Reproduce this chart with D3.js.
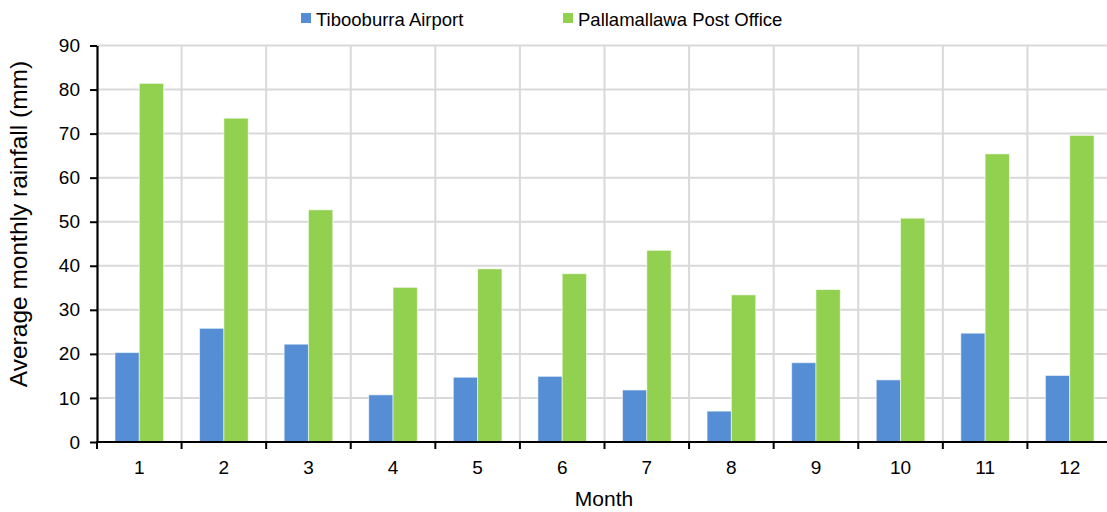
<!DOCTYPE html>
<html>
<head>
<meta charset="utf-8">
<script src="https://cdn.jsdelivr.net/npm/d3@7"></script>
<style>
  html, body { margin: 0; padding: 0; background: #fff; }
  svg { display: block; font-family: "Liberation Sans", Arial, sans-serif; }
</style>
</head>
<body>
<svg id="chart" width="1107" height="512"></svg>
<script>
// Average monthly rainfall (mm) for two NSW stations
const months = ["1", "2", "3", "4", "5", "6", "7", "8", "9", "10", "11", "12"];
const seriesNames = ["Tibooburra Airport", "Pallamallawa Post Office"];
const tibooburra = [20.3, 25.8, 22.2, 10.7, 14.7, 14.9, 11.8, 7.0, 18.0, 14.1, 24.7, 15.1];
const pallamallawa = [81.4, 73.5, 52.7, 35.1, 39.3, 38.2, 43.5, 33.4, 34.6, 50.8, 65.4, 69.6];
const yTicks = [0, 10, 20, 30, 40, 50, 60, 70, 80, 90];
const colors = ["#558ed5", "#92d050"];

const svg = d3.select("#chart");
const plotLeft = 97, plotRight = 1112, plotTop = 45.5, plotBottom = 442;

const x = d3.scaleBand().domain(months).range([plotLeft, plotRight]).padding(0);
const xs = d3.scaleBand().domain(seriesNames).range([0, x.bandwidth()])
  .paddingInner(0).paddingOuter(0.74);
const y = d3.scaleLinear().domain([0, 90]).range([plotBottom, plotTop]);

// gridlines
const grid = svg.append("g").attr("stroke", "#d9d9d9").attr("stroke-width", 2);
grid.selectAll("line.h").data(yTicks.filter(d => d > 0)).join("line")
  .attr("class", "h")
  .attr("x1", plotLeft).attr("x2", plotRight)
  .attr("y1", d => y(d)).attr("y2", d => y(d));
grid.selectAll("line.v").data(months).join("line")
  .attr("class", "v")
  .attr("x1", d => x(d) + x.bandwidth()).attr("x2", d => x(d) + x.bandwidth())
  .attr("y1", plotTop).attr("y2", plotBottom);

// bars
const rows = months.map((m, i) => ({ month: m, values: [tibooburra[i], pallamallawa[i]] }));
const groups = svg.append("g").selectAll("g").data(rows).join("g")
  .attr("transform", d => `translate(${x(d.month)},0)`);
groups.selectAll("rect").data(d => d.values.map((v, j) => ({ v, j }))).join("rect")
  .attr("x", d => xs(seriesNames[d.j]))
  .attr("width", xs.bandwidth())
  .attr("y", d => y(d.v))
  .attr("height", d => y(0) - y(d.v))
  .attr("fill", d => colors[d.j])
  .attr("stroke", "rgba(255,255,255,0.55)")
  .attr("stroke-width", 1);

// y axis
const yAxis = svg.append("g").attr("transform", `translate(${plotLeft},0)`)
  .call(d3.axisLeft(y).tickValues(yTicks).tickSize(7).tickSizeOuter(0).tickPadding(10));
yAxis.select(".domain").attr("stroke", "#000").attr("stroke-width", 2.2);
yAxis.selectAll(".tick line").attr("stroke", "#000").attr("stroke-width", 2);
yAxis.selectAll(".tick text").attr("font-size", 19).attr("fill", "#000")
  .attr("font-family", "Liberation Sans, Arial, sans-serif");

// x axis: ticks at category boundaries, labels at centres
const xAxisG = svg.append("g");
xAxisG.append("line").attr("x1", plotLeft - 1).attr("x2", plotRight)
  .attr("y1", plotBottom).attr("y2", plotBottom).attr("stroke", "#000").attr("stroke-width", 2.2);
const bounds = [plotLeft].concat(months.map(m => x(m) + x.bandwidth()));
xAxisG.selectAll("line.t").data(bounds).join("line")
  .attr("class", "t")
  .attr("x1", d => d).attr("x2", d => d)
  .attr("y1", plotBottom).attr("y2", plotBottom + 7)
  .attr("stroke", "#000").attr("stroke-width", 2);
xAxisG.selectAll("text").data(months).join("text")
  .attr("x", d => x(d) + x.bandwidth() / 2)
  .attr("y", 474)
  .attr("text-anchor", "middle")
  .attr("font-size", 19)
  .attr("fill", "#000")
  .text(d => d);

// axis titles
svg.append("text").attr("x", 604).attr("y", 506).attr("text-anchor", "middle")
  .attr("font-size", 21).attr("fill", "#000").text("Month");
svg.append("text").attr("transform", "translate(27,224) rotate(-90)")
  .attr("text-anchor", "middle").attr("font-size", 24.5).attr("fill", "#000")
  .text("Average monthly rainfall (mm)");

// legend
const legendX = [301, 563];
const legend = svg.append("g").selectAll("g").data(seriesNames).join("g")
  .attr("transform", (d, i) => `translate(${legendX[i]},0)`);
legend.append("rect").attr("x", 0).attr("y", 13).attr("width", 10).attr("height", 10)
  .attr("fill", (d, i) => colors[i]);
legend.append("text").attr("x", 15).attr("y", 25.5).attr("font-size", 18.5)
  .attr("fill", "#000").text(d => d);
</script>
</body>
</html>
